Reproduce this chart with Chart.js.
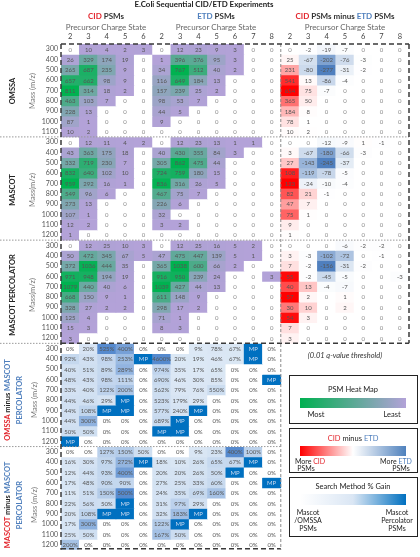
<!DOCTYPE html>
<html>
<head>
<meta charset="utf-8">
<script src="https://cdn.jsdelivr.net/npm/chart.js@4.4.0/dist/chart.umd.min.js"></script>
<style>
  body { margin: 0; background: #fff; font-family: Lato, 'Liberation Sans', sans-serif; }
  #wrap { position: relative; width: 420px; height: 557px; overflow: hidden; }
  #heat { position: absolute; left: 0; top: 0; }
  .t { position: absolute; white-space: nowrap; transform: translate(-50%, -50%); line-height: 1; }
  .rot { transform: translate(-50%, -50%) rotate(-90deg); }
  .red { color: #e3262d; }
  .blue { color: #4f7fbd; }
  .box { position: absolute; border: 1px solid #222; }
  .bar { position: absolute; }
</style>
</head>
<body>
<div id="wrap">
  <canvas id="heat" width="420" height="557"></canvas>

  <div class="t" style="left:204px;top:5px;font-size:7.9px;font-weight:bold;color:#222">E.Coli Sequential CID/ETD Experiments</div>

  <div class="t" style="left:106px;top:16px;font-size:8px;font-weight:bold;color:#333"><span class="red">CID</span> PSMs</div>
  <div class="t" style="left:106px;top:27px;font-size:8px;color:#666">Precursor Charge State</div>
  <div class="t" style="left:216px;top:16px;font-size:8px;font-weight:bold;color:#333"><span class="blue">ETD</span> PSMs</div>
  <div class="t" style="left:216px;top:27px;font-size:8px;color:#666">Precursor Charge State</div>
  <div class="t" style="left:345px;top:16px;font-size:8px;font-weight:bold;color:#333"><span class="red">CID</span> PSMs minus <span class="blue">ETD</span> PSMs</div>
  <div class="t" style="left:345px;top:27px;font-size:8px;color:#666">Precursor Charge State</div>

  <div class="t rot" style="left:13px;top:91px;font-size:7.5px;font-weight:bold;color:#222">OMSSA</div>
  <div class="t rot" style="left:33px;top:91px;font-size:7.5px;color:#777">Mass (m/z)</div>
  <div class="t rot" style="left:13px;top:190px;font-size:7.5px;font-weight:bold;color:#222">MASCOT</div>
  <div class="t rot" style="left:33px;top:190px;font-size:7.5px;color:#777">Mass(m/z)</div>
  <div class="t rot" style="left:13px;top:295px;font-size:7.5px;font-weight:bold;color:#222">MASCOT PERCOLATOR</div>
  <div class="t rot" style="left:33px;top:295px;font-size:7.5px;color:#777">Mass(m/z)</div>
  <div class="t rot" style="left:8px;top:400px;font-size:7.5px;font-weight:bold;color:#222"><span class="red">OMSSA</span> minus <span class="blue">MASCOT</span></div>
  <div class="t rot" style="left:20px;top:400px;font-size:7.5px;font-weight:bold" ><span class="blue">PERCOLATOR</span></div>
  <div class="t rot" style="left:35px;top:400px;font-size:7.5px;color:#777">Mass (m/z)</div>
  <div class="t rot" style="left:8px;top:505px;font-size:7.5px;font-weight:bold;color:#222"><span class="red">MASCOT</span> minus <span class="blue">MASCOT</span></div>
  <div class="t rot" style="left:20px;top:505px;font-size:7.5px;font-weight:bold"><span class="blue">PERCOLATOR</span></div>
  <div class="t rot" style="left:35px;top:505px;font-size:7.5px;color:#777">Mass (m/z)</div>

  <div class="t" style="left:345px;top:356px;font-size:7.5px;font-style:italic;color:#333">(0.01 q-value threshold)</div>

  <!-- legends -->
  <div class="box" style="left:289px;top:375px;width:127px;height:47px"></div>
  <div class="t" style="left:353px;top:390px;font-size:7.5px;color:#222">PSM Heat Map</div>
  <div class="bar" style="left:300px;top:398px;width:106px;height:10px;background:linear-gradient(to right,#00b050,#b3a2d8)"></div>
  <div class="t" style="left:316px;top:415px;font-size:7.5px;color:#222">Most</div>
  <div class="t" style="left:392px;top:415px;font-size:7.5px;color:#222">Least</div>

  <div class="box" style="left:289px;top:428px;width:127px;height:43px"></div>
  <div class="t" style="left:353px;top:439px;font-size:7.5px;color:#222"><span class="red">CID</span> minus <span class="blue">ETD</span></div>
  <div class="bar" style="left:300px;top:446px;width:106px;height:10px;background:linear-gradient(to right,#ff0000,#ffffff,#4f81bd)"></div>
  <div class="t" style="left:310px;top:461px;font-size:7px;color:#222;text-align:left">More <span class="red">CID</span></div>
  <div class="t" style="left:306px;top:468px;font-size:7px;color:#222">PSMs</div>
  <div class="t" style="left:396px;top:461px;font-size:7px;color:#222">More <span class="blue">ETD</span></div>
  <div class="t" style="left:401px;top:468px;font-size:7px;color:#222">PSMs</div>

  <div class="box" style="left:289px;top:477px;width:127px;height:58px"></div>
  <div class="t" style="left:353px;top:487px;font-size:7.5px;color:#222">Search Method % Gain</div>
  <div class="bar" style="left:300px;top:494px;width:106px;height:11px;background:linear-gradient(to right,#ffffff,#dae6f4,#0070c0)"></div>
  <div class="t" style="left:308px;top:512px;font-size:7px;color:#222">Mascot</div>
  <div class="t" style="left:308px;top:520px;font-size:7px;color:#222">/OMSSA</div>
  <div class="t" style="left:308px;top:528px;font-size:7px;color:#222">PSMs</div>
  <div class="t" style="left:397px;top:512px;font-size:7px;color:#222">Mascot</div>
  <div class="t" style="left:397px;top:520px;font-size:7px;color:#222">Percolator</div>
  <div class="t" style="left:397px;top:528px;font-size:7px;color:#222">PSMs</div>
</div>

<script>
// charge states (columns) and precursor mass bins (rows)
const cidCharges = ['2', '3', '4', '5', '6'];
const etdCharges = ['2', '3', '4', '5', '6', '7', '8'];
const massOmssa = ['300', '400', '500', '600', '700', '800', '900', '1000', '1100'];
const massAll = ['300', '400', '500', '600', '700', '800', '900', '1000', '1100', '1200'];

// PSM counts
const omssaCid = [
  [0, 10, 4, 2, 3], [26, 329, 174, 19, 0], [265, 687, 235, 9, 0], [657, 662, 98, 9, 0],
  [811, 314, 18, 2, 0], [463, 103, 7, 0, 0], [228, 13, 0, 0, 0], [87, 1, 0, 0, 0], [10, 2, 0, 0, 0]
];
const omssaEtd = [
  [0, 12, 23, 9, 3, 0, 0], [1, 396, 376, 95, 3, 0, 0], [34, 767, 512, 40, 2, 0, 0],
  [116, 649, 184, 13, 0, 0, 0], [157, 239, 25, 2, 0, 0, 0], [98, 53, 7, 0, 0, 0, 0],
  [44, 5, 0, 0, 0, 0, 0], [9, 0, 0, 0, 0, 0, 0], [0, 0, 0, 0, 0, 0, 0]
];
const omssaDiff = [
  [0, -2, -19, -7, 0, 0, 0], [25, -67, -202, -76, -3, 0, 0], [231, -80, -277, -31, -2, 0, 0],
  [541, 13, -86, -4, 0, 0, 0], [654, 75, -7, 0, 0, 0, 0], [365, 50, 0, 0, 0, 0, 0],
  [184, 8, 0, 0, 0, 0, 0], [78, 1, 0, 0, 0, 0, 0], [10, 2, 0, 0, 0, 0, 0]
];

const mascotCid = [
  [0, 12, 11, 4, 2], [43, 363, 175, 18, 0], [332, 719, 230, 7, 0], [832, 640, 102, 10, 0],
  [959, 292, 16, 1, 0], [549, 96, 6, 0, 0], [273, 13, 0, 0, 0], [107, 1, 0, 0, 0],
  [12, 2, 0, 0, 0], [1, 0, 0, 0, 0]
];
const mascotEtd = [
  [0, 12, 23, 13, 1, 1, 0], [40, 430, 355, 84, 3, 0, 0], [305, 862, 475, 44, 0, 0, 0],
  [724, 759, 180, 15, 0, 0, 0], [836, 316, 26, 5, 0, 0, 0], [467, 75, 7, 0, 0, 0, 0],
  [226, 6, 0, 0, 0, 0, 0], [32, 0, 0, 0, 0, 0, 0], [3, 2, 0, 0, 0, 0, 0], [0, 0, 0, 0, 0, 0, 0]
];
const mascotDiff = [
  [0, 0, -12, -9, 1, -1, 0], [3, -67, -180, -66, -3, 0, 0], [27, -143, -245, -37, 0, 0, 0],
  [108, -119, -78, -5, 0, 0, 0], [123, -24, -10, -4, 0, 0, 0], [82, 21, -1, 0, 0, 0, 0],
  [47, 7, 0, 0, 0, 0, 0], [75, 1, 0, 0, 0, 0, 0], [9, 0, 0, 0, 0, 0, 0], [1, 0, 0, 0, 0, 0, 0]
];

const percCid = [
  [0, 12, 25, 10, 3], [50, 472, 345, 67, 5], [372, 1036, 444, 35, 0], [971, 948, 194, 19, 0],
  [1079, 440, 40, 6, 0], [668, 150, 9, 1, 0], [328, 27, 2, 2, 0], [125, 4, 0, 0, 0],
  [15, 3, 0, 0, 0], [3, 0, 0, 0, 0]
];
const percEtd = [
  [0, 12, 25, 16, 5, 2, 0], [47, 475, 447, 139, 5, 1, 0], [365, 1038, 600, 66, 2, 0, 0],
  [916, 950, 239, 24, 0, 0, 3], [1039, 427, 44, 13, 0, 0, 0], [611, 148, 9, 0, 0, 0, 0],
  [298, 17, 2, 0, 0, 0, 0], [71, 1, 0, 0, 0, 0, 0], [8, 3, 0, 0, 0, 0, 0], [0, 0, 0, 0, 0, 0, 0]
];
const percDiff = [
  [0, 0, 0, -6, -2, -2, 0], [3, -3, -102, -72, 0, -1, 0], [7, -2, -156, -31, -2, 0, 0],
  [55, -2, -45, -5, 0, 0, -3], [40, 13, -4, -7, 0, 0, 0], [57, 2, 0, 1, 0, 0, 0],
  [30, 10, 0, 2, 0, 0, 0], [54, 3, 0, 0, 0, 0, 0], [7, 0, 0, 0, 0, 0, 0], [3, 0, 0, 0, 0, 0, 0]
];

// % gain of Mascot Percolator over OMSSA / Mascot (MP = only found by Mascot Percolator)
const omssaGainCid = [
  ['0%', '20%', '525%', '400%', '0%'], ['92%', '43%', '98%', '253%', 'MP'], ['40%', '51%', '89%', '289%', '0%'],
  ['48%', '43%', '98%', '111%', '0%'], ['33%', '40%', '122%', '200%', '0%'], ['44%', '46%', '29%', 'MP', '0%'],
  ['44%', '108%', 'MP', 'MP', '0%'], ['44%', '300%', '0%', '0%', '0%'], ['50%', '50%', '0%', '0%', '0%'],
  ['MP', '0%', '0%', '0%', '0%']
];
const omssaGainEtd = [
  ['0%', '0%', '9%', '78%', '67%', 'MP', '0%'], ['4600%', '20%', '19%', '46%', '67%', 'MP', '0%'],
  ['974%', '35%', '17%', '65%', '0%', '0%', '0%'], ['690%', '46%', '30%', '85%', '0%', '0%', 'MP'],
  ['562%', '79%', '76%', '550%', '0%', '0%', '0%'], ['523%', '179%', '29%', '0%', '0%', '0%', '0%'],
  ['577%', '240%', 'MP', '0%', '0%', '0%', '0%'], ['689%', 'MP', '0%', '0%', '0%', '0%', '0%'],
  ['MP', 'MP', '0%', '0%', '0%', '0%', '0%'], ['0%', '0%', '0%', '0%', '0%', '0%', '0%']
];
const mascotGainCid = [
  ['0%', '0%', '127%', '150%', '50%'], ['16%', '30%', '97%', '272%', 'MP'], ['12%', '44%', '93%', '400%', '0%'],
  ['17%', '48%', '90%', '90%', '0%'], ['11%', '51%', '150%', '500%', '0%'], ['22%', '56%', '50%', 'MP', '0%'],
  ['20%', '108%', 'MP', 'MP', '0%'], ['17%', '300%', '0%', '0%', '0%'], ['25%', '50%', '0%', '0%', '0%'],
  ['200%', '0%', '0%', '0%', '0%']
];
const mascotGainEtd = [
  ['0%', '0%', '9%', '23%', '400%', '100%', '0%'], ['18%', '10%', '26%', '65%', '67%', 'MP', '0%'],
  ['20%', '20%', '26%', '50%', 'MP', '0%', '0%'], ['27%', '25%', '33%', '60%', '0%', '0%', 'MP'],
  ['24%', '35%', '69%', '160%', '0%', '0%', '0%'], ['31%', '97%', '29%', '0%', '0%', '0%', '0%'],
  ['32%', '183%', 'MP', '0%', '0%', '0%', '0%'], ['122%', 'MP', '0%', '0%', '0%', '0%', '0%'],
  ['167%', '50%', '0%', '0%', '0%', '0%', '0%'], ['0%', '0%', '0%', '0%', '0%', '0%', '0%']
];

const FONT = 'Lato, "Liberation Sans", sans-serif';

function mix(a, b, t) {
  t = Math.max(0, Math.min(1, t));
  return 'rgb(' + a.map((v, i) => Math.round(v + (b[i] - v) * t)).join(',') + ')';
}
const PURPLE = [179, 162, 216], GREEN = [0, 178, 80];
const WHITE = [255, 255, 255], RED = [255, 0, 0], BLUE = [79, 127, 190];
const LIGHTBLUE = [220, 232, 245], MIDBLUE = [86, 138, 206], MPBLUE = 'rgb(0,112,192)';

function heatColor(v, max) {
  return v === 0 ? '#ffffff' : mix(PURPLE, GREEN, v / max);
}
function diffColor(v, pos, neg) {
  if (v > 0) return mix(WHITE, RED, v / pos);
  if (v < 0) return mix(WHITE, BLUE, -v / neg);
  return '#ffffff';
}
function gainColor(s, max) {
  if (s === 'MP') return MPBLUE;
  const v = parseFloat(s);
  return v === 0 ? '#ffffff' : mix(LIGHTBLUE, MIDBLUE, v / max);
}

const rows = [];
const NCOL = cidCharges.length + etdCharges.length * 2;

function addCounts(mass, cid, etd, diff) {
  const cMax = Math.max(...cid.flat()), eMax = Math.max(...etd.flat());
  const dPos = Math.max(...diff.flat()), dNeg = -Math.min(...diff.flat());
  mass.forEach((m, r) => {
    const cells = [];
    cid[r].forEach(v => cells.push({ text: String(v), color: heatColor(v, cMax), zero: v === 0 }));
    etd[r].forEach(v => cells.push({ text: String(v), color: heatColor(v, eMax), zero: v === 0 }));
    diff[r].forEach(v => cells.push({ text: String(v), color: diffColor(v, dPos, dNeg), zero: v === 0 }));
    rows.push({ mass: m, cells });
  });
}
function addGain(mass, cid, etd) {
  const num = t => t.flat().filter(s => s !== 'MP').map(parseFloat);
  const cMax = Math.max(...num(cid)), eMax = Math.max(...num(etd));
  mass.forEach((m, r) => {
    const cells = [];
    cid[r].forEach(s => cells.push({ text: s, color: gainColor(s, cMax), mp: s === 'MP' }));
    etd[r].forEach(s => cells.push({ text: s, color: gainColor(s, eMax), mp: s === 'MP' }));
    while (cells.length < NCOL) cells.push(null);
    rows.push({ mass: m, cells });
  });
}

addCounts(massOmssa, omssaCid, omssaEtd, omssaDiff);
addCounts(massAll, mascotCid, mascotEtd, mascotDiff);
addCounts(massAll, percCid, percEtd, percDiff);
addGain(massAll, omssaGainCid, omssaGainEtd);
addGain(massAll, mascotGainCid, mascotGainEtd);

const columns = cidCharges.concat(etdCharges, etdCharges);

const datasets = rows.map((row, r) => ({
  data: row.cells.map(c => (c ? [r, r + 1] : null)),
  backgroundColor: row.cells.map(c => (c ? c.color : 'rgba(0,0,0,0)')),
  cells: row.cells
}));

// cell numbers
const cellText = {
  id: 'cellText',
  afterDatasetsDraw(chart) {
    const ctx = chart.ctx;
    ctx.save();
    ctx.font = '6px ' + FONT;
    ctx.textAlign = 'center';
    ctx.textBaseline = 'middle';
    chart.data.datasets.forEach((ds, d) => {
      chart.getDatasetMeta(d).data.forEach((el, i) => {
        const c = ds.cells[i];
        if (!c) return;
        ctx.fillStyle = c.mp ? '#c9d9ef' : (c.zero ? '#8a8a8a' : '#555');
        ctx.fillText(c.text, el.x, (el.y + el.base) / 2 + 0.5);
      });
    });
    ctx.restore();
  }
};

// dashed frames and group separators
const frame = {
  id: 'frame',
  afterDraw(chart) {
    const { ctx, chartArea: a, scales: { x, y } } = chart;
    const colEdge = i => (x.getPixelForValue(i - 1) + x.getPixelForValue(i)) / 2;
    const splitX = colEdge(cidCharges.length + etdCharges.length);
    const yTopBox = y.getPixelForValue(29);
    const line = (x1, y1, x2, y2, color, w, dash) => {
      ctx.save();
      ctx.strokeStyle = color;
      ctx.lineWidth = w;
      ctx.setLineDash(dash);
      ctx.beginPath();
      ctx.moveTo(x1, y1);
      ctx.lineTo(x2, y2);
      ctx.stroke();
      ctx.restore();
    };
    [9, 19].forEach(r => line(0, y.getPixelForValue(r), a.right, y.getPixelForValue(r), '#9a9a9a', 1, [1.5, 1.5]));
    line(0, yTopBox, a.left, yTopBox, '#9a9a9a', 1, [1.5, 1.5]);
    line(0, y.getPixelForValue(39), splitX, y.getPixelForValue(39), '#9a9a9a', 1, [1.5, 1.5]);
    line(splitX, a.top, splitX, a.bottom, '#8a8a8a', 1, [3, 2]);
    const k = '#3a3a3a';
    line(a.left, a.top, a.right, a.top, k, 1.5, [5, 3]);
    line(a.left, a.top, a.left, a.bottom, k, 1.5, [5, 3]);
    line(a.right, a.top, a.right, yTopBox, k, 1.5, [5, 3]);
    line(a.left, yTopBox, a.right, yTopBox, k, 1.5, [5, 3]);
    line(a.left, a.bottom - 1, splitX, a.bottom - 1, k, 1.5, [5, 3]);
  }
};

new Chart(document.getElementById('heat'), {
  type: 'bar',
  data: { labels: columns, datasets },
  options: {
    responsive: false,
    animation: false,
    devicePixelRatio: 1,
    layout: { padding: { left: 0, right: 11, top: 0, bottom: 0 } },
    plugins: { legend: { display: false }, tooltip: { enabled: false }, title: { display: false } },
    datasets: { bar: { grouped: false, barPercentage: 1, categoryPercentage: 1, borderWidth: 0 } },
    scales: {
      x: {
        position: 'top',
        grid: { display: false, drawTicks: false },
        border: { display: false },
        ticks: { autoSkip: false, maxRotation: 0, padding: 3, color: '#444', font: { size: 7.5, family: FONT } },
        afterFit: s => { s.height = 44; }
      },
      y: {
        type: 'linear',
        min: 0,
        max: rows.length,
        reverse: true,
        grid: { display: false, drawTicks: false },
        border: { display: false },
        afterBuildTicks: s => { s.ticks = rows.map((_, i) => ({ value: i + 0.5 })); },
        ticks: {
          autoSkip: false,
          padding: 3,
          color: '#555',
          font: { size: 7, family: FONT },
          callback: v => rows[Math.floor(v)].mass
        },
        afterFit: s => { s.width = 61; }
      }
    }
  },
  plugins: [cellText, frame]
});
</script>
</body>
</html>
